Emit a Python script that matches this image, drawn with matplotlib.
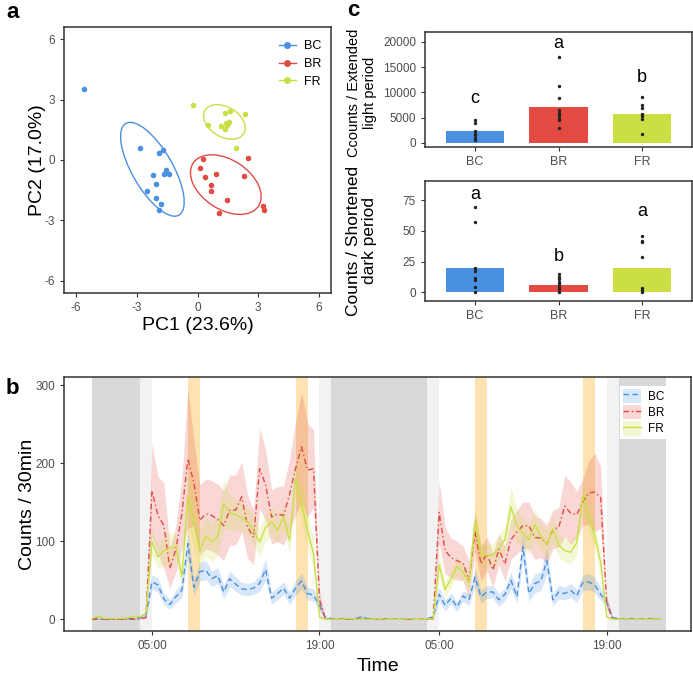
import numpy as np
import matplotlib.pyplot as plt
from matplotlib.patches import Ellipse, Patch
from matplotlib.lines import Line2D

plt.rcParams['font.family'] = ['Liberation Sans', 'DejaVu Sans']
plt.rcParams['axes.unicode_minus'] = False

groups = ["BC", "BR", "FR"]
colors = {"BC": "#4a90e0", "BR": "#e14b42", "FR": "#cbdf45"}
tick_grey = "#4d4d4d"
frame_grey = "#333333"

# ---- panel a : PCA scores ----
pc1 = {
    "BC": [-5.6, -2.85, -1.90, -1.69, -2.22, -1.56, -1.67, -1.42, -2.07, -2.52, -2.05, -1.80, -1.89],
    "BR": [0.25, 0.13, 0.91, 0.35, 0.67, 0.65, 1.46, 1.06, 2.32, 2.52, 3.23, 3.30],
    "FR": [-0.20, 0.50, 1.16, 1.36, 1.63, 2.34, 1.41, 1.54, 1.46, 1.38, 1.89],
}
pc2 = {
    "BC": [3.5, 0.60, 0.37, 0.52, -0.76, -0.51, -0.68, -0.70, -1.17, -1.54, -1.87, -2.17, -2.50],
    "BR": [0.07, -0.38, -0.68, -0.84, -1.26, -1.54, -2.00, -2.63, -0.80, 0.12, -2.27, -2.50],
    "FR": [2.75, 1.72, 1.71, 2.31, 2.42, 2.27, 1.86, 1.89, 1.72, 1.56, 0.62],
}
# 95% ellipses: centre x, centre y, width, height, angle
ell_x = {"BC": -2.23, "BR": 1.40, "FR": 1.33}
ell_y = {"BC": -0.46, "BR": -1.22, "FR": 1.89}
ell_w = {"BC": 5.25, "BR": 3.87, "FR": 2.24}
ell_h = {"BC": 2.0, "BR": 2.45, "FR": 1.48}
ell_ang = {"BC": -60, "BR": -33.6, "FR": -31}

# ---- panel c : counts per period ----
light_bar = [2300, 7130, 5810]
light_pts = [
    [4620, 3960, 2310, 1850, 1520, 1060, 660],
    [17030, 11290, 8910, 6470, 5940, 5480, 5020, 4490, 3040],
    [9110, 7460, 6930, 5810, 5350, 4820, 1720],
]
light_letters = ["c", "a", "b"]
light_letter_y = [8800, 19700, 12950]

dark_bar = [19.6, 5.7, 20.1]
dark_pts = [
    [69.8, 57.6, 20.1, 17.4, 12, 10, 4.6, 0],
    [15, 12.8, 10.6, 8.7, 6.5, 4.6, 2.4, 0],
    [46.2, 42.1, 40.8, 29.1, 3.5, 1.9, 0],
]
dark_letters = ["a", "b", "a"]
dark_letter_y = [79.3, 29, 65.7]

# ---- panel b : activity per 30 min, t in hours from start ----
hours = np.arange(96) * 0.5
mean = {
    "BC": [1, 1, 0, 1, 0, 0, 1, 1, 2,
           5, 48, 44, 26, 19, 29, 37, 97, 41, 61, 63, 52, 56, 35, 52, 45, 39, 38, 40, 46, 64, 27,
           33, 40, 27, 40, 49, 33, 31, 18, 2,
           1, 0, 1, 0, 1, 3, 1, 0, 0, 1, 0, 0, 0, 1, 0, 0, 1,
           3, 32, 18, 27, 16, 30, 25, 54, 29, 35, 35, 25, 32, 50, 29, 93, 33, 46, 49, 75, 25, 35,
           33, 37, 30, 47, 48, 44, 32, 22, 2,
           1, 0, 1, 0, 0, 1, 0, 0],
    "BR": [0, 0, 0, 0, 0, 0, 0, 0, 1,
           2, 165, 133, 120, 65, 90, 135, 206, 175, 127, 135, 133, 128, 120, 140, 140, 157, 118,
           105, 193, 172, 131, 135, 133, 160, 193, 221, 191, 193, 25, 0,
           0, 0, 0, 0, 0, 0, 0, 0, 0, 0, 0, 0, 0, 0, 0, 0, 0,
           0, 137, 88, 79, 75, 72, 50, 112, 71, 84, 63, 90, 71, 102, 112, 120, 120, 105, 104, 96,
           115, 118, 145, 136, 134, 150, 162, 163, 156, 22, 0,
           0, 0, 0, 0, 0, 0, 0, 0],
    "FR": [1, 4, 1, 1, 1, 1, 2, 4, 3,
           8, 100, 80, 88, 92, 93, 55, 158, 125, 88, 106, 99, 106, 148, 137, 134, 130, 125, 114,
           99, 118, 125, 114, 131, 101, 180, 148, 114, 84, 3, 0,
           0, 0, 0, 1, 0, 0, 0, 0, 1, 0, 0, 0, 0, 1, 0, 0, 1,
           0, 70, 38, 52, 68, 60, 47, 125, 82, 82, 82, 92, 102, 144, 120, 110, 102, 121, 106, 96,
           116, 95, 88, 86, 98, 158, 131, 107, 73, 3, 0,
           0, 0, 0, 0, 0, 0, 0, 0],
}
sem = {
    "BC": [1, 1, 0, 1, 0, 0, 1, 1, 1,
           3, 9, 9, 8, 6, 8, 9, 17, 11, 12, 12, 10, 10, 9, 10, 9, 8, 8, 8, 10, 14, 8,
           8, 8, 8, 9, 10, 8, 8, 6, 2,
           1, 0, 1, 0, 1, 2, 1, 0, 0, 1, 0, 0, 0, 1, 0, 0, 1,
           2, 9, 7, 7, 6, 7, 7, 12, 8, 8, 8, 8, 8, 11, 8, 18, 10, 12, 12, 17, 8, 9,
           8, 9, 8, 10, 10, 10, 8, 6, 2,
           1, 0, 1, 0, 0, 1, 0, 0],
    "BR": [0, 0, 0, 0, 0, 0, 0, 0, 1,
           1, 60, 50, 55, 25, 30, 45, 90, 55, 45, 45, 45, 45, 45, 45, 45, 45, 40,
           35, 52, 45, 35, 35, 38, 45, 60, 70, 60, 50, 12, 0,
           0, 0, 0, 0, 0, 0, 0, 0, 0, 0, 0, 0, 0, 0, 0, 0, 0,
           0, 40, 30, 25, 25, 22, 25, 25, 22, 22, 22, 20, 22, 25, 28, 30, 30, 28, 25, 25,
           25, 25, 40, 40, 30, 30, 40, 50, 40, 8, 0,
           0, 0, 0, 0, 0, 0, 0, 0],
    "FR": [1, 2, 1, 1, 1, 1, 1, 2, 2,
           3, 18, 15, 20, 20, 15, 15, 35, 35, 25, 25, 25, 25, 32, 22, 20, 18, 18, 18,
           18, 18, 18, 18, 18, 18, 25, 25, 22, 20, 2, 0,
           0, 0, 0, 1, 0, 0, 0, 0, 1, 0, 0, 0, 0, 1, 0, 0, 1,
           0, 15, 10, 12, 12, 12, 12, 23, 15, 15, 15, 15, 18, 26, 22, 20, 18, 20, 18, 18,
           18, 15, 15, 15, 15, 20, 20, 15, 15, 2, 0,
           0, 0, 0, 0, 0, 0, 0, 0],
}
dark_periods = [(0, 4), (20, 28), (44, 48)]
dim_periods = [(4, 5), (19, 20), (28, 29), (43, 44)]
pulse_periods = [(8, 9), (17, 18), (32, 33), (41, 42)]
time_ticks = [5, 19, 29, 43]
time_labels = ["05:00", "19:00", "05:00", "19:00"]
line_dash = {"BC": (4, 2.5), "BR": (4, 2, 1, 2), "FR": None}


fig = plt.figure(figsize=(6.93, 6.74), dpi=100)
W, H = 693, 674


def add_ax(l, t, r, b):
    return fig.add_axes([l / W, 1 - b / H, (r - l) / W, (b - t) / H])


def style(ax):
    for s in ax.spines.values():
        s.set_color(frame_grey)
        s.set_linewidth(1.1)
    ax.tick_params(colors=frame_grey, labelcolor=tick_grey, length=3, width=0.8, labelsize=8.5)


# panel a
ax = add_ax(64, 27, 331, 293)
style(ax)
for g in groups:
    ax.scatter(pc1[g], pc2[g], s=16, color=colors[g], zorder=3, linewidths=0)
    ax.add_patch(Ellipse((ell_x[g], ell_y[g]), ell_w[g], ell_h[g], angle=ell_ang[g],
                         fill=False, edgecolor=colors[g], lw=1.0))
ax.set_xlim(-6.6, 6.6)
ax.set_ylim(-6.6, 6.6)
ax.set_xticks([-6, -3, 0, 3, 6])
ax.set_yticks([-6, -3, 0, 3, 6])
ax.set_xlabel("PC1 (23.6%)", fontsize=14, labelpad=2)
ax.set_ylabel("PC2 (17.0%)", fontsize=14, labelpad=-1)
handles = [Line2D([], [], color=colors[g], marker='o', markersize=4, lw=1) for g in groups]
ax.legend(handles, groups, loc='upper right', bbox_to_anchor=(0.965, 0.95), frameon=False,
          fontsize=9, handlelength=1.3, handletextpad=0.7, labelspacing=0.45,
          borderpad=0, borderaxespad=0)

# panel c
axc1 = add_ax(425, 32, 692, 147)
axc2 = add_ax(425, 181, 692, 301)
xs = [1, 2, 3]
for axc, bars, pts, letters, ly in [(axc1, light_bar, light_pts, light_letters, light_letter_y),
                                    (axc2, dark_bar, dark_pts, dark_letters, dark_letter_y)]:
    style(axc)
    axc.bar(xs, bars, width=0.7, color=[colors[g] for g in groups], zorder=1)
    for x, p, lt, y in zip(xs, pts, letters, ly):
        axc.scatter([x] * len(p), p, s=6, color="#222222", zorder=3, linewidths=0)
        axc.text(x, y, lt, ha='center', va='center', fontsize=13)
    axc.set_xlim(0.4, 3.6)
    axc.set_xticks(xs)
    axc.set_xticklabels(groups, fontsize=9)
axc1.set_ylim(-800, 21980)
axc1.set_yticks([0, 5000, 10000, 15000, 20000])
axc2.set_ylim(-7.1, 90.7)
axc2.set_yticks([0, 25, 50, 75])
axc1.set_ylabel("Ccounts / Extended\nlight period", fontsize=10.5, linespacing=1.15)
axc2.set_ylabel("Counts / Shortened\ndark period", fontsize=12.5, linespacing=1.1)
axc1.yaxis.set_label_coords(-0.18, 0.47)
axc2.yaxis.set_label_coords(-0.18, 0.5)

# panel b
axb = add_ax(64, 377, 691, 631)
style(axb)
for a, b in dark_periods:
    axb.axvspan(a, b, color="#d9d9d9", lw=0, zorder=0)
for a, b in dim_periods:
    axb.axvspan(a, b, color="#f2f2f2", lw=0, zorder=0)
for a, b in pulse_periods:
    axb.axvspan(a, b, color="#fde2b2", lw=0, zorder=0)
leg_handles = []
for g in groups:
    m = np.array(mean[g], dtype=float)
    e = np.array(sem[g], dtype=float)
    axb.fill_between(hours, m - e, m + e, color=colors[g], alpha=0.22, lw=0, zorder=1)
    ln, = axb.plot(hours, m, color=colors[g], lw=1.0, zorder=2)
    if line_dash[g]:
        ln.set_dashes(line_dash[g])
    key_line = Line2D([], [], color=colors[g], lw=1.0)
    if line_dash[g]:
        key_line.set_dashes(line_dash[g])
    leg_handles.append((Patch(color=colors[g], alpha=0.22, lw=0), key_line))
axb.set_xlim(-2.35, 50.05)
axb.set_ylim(-15, 310.5)
axb.set_yticks([0, 100, 200, 300])
axb.set_xticks(time_ticks)
axb.set_xticklabels(time_labels)
axb.set_xlabel("Time", fontsize=14, labelpad=4)
axb.set_ylabel("Counts / 30min", fontsize=14, labelpad=-1)
lg = axb.legend(leg_handles, groups, loc='upper right', bbox_to_anchor=(0.962, 0.965),
                fontsize=8.5, handlelength=1.5, handleheight=1.5, handletextpad=0.6,
                labelspacing=0.15, borderpad=0.25, borderaxespad=0, fancybox=False,
                framealpha=1, facecolor="white", edgecolor="none")

# panel letters
fig.text(13 / W, 1 - 13 / H, "a", fontsize=16, fontweight='bold', ha='center', va='center')
fig.text(353 / W, 1 - 11 / H, "c", fontsize=16, fontweight='bold', ha='center', va='center')
fig.text(12 / W, 1 - 388 / H, "b", fontsize=16, fontweight='bold', ha='center', va='center')

fig.savefig("out.png", dpi=100)
